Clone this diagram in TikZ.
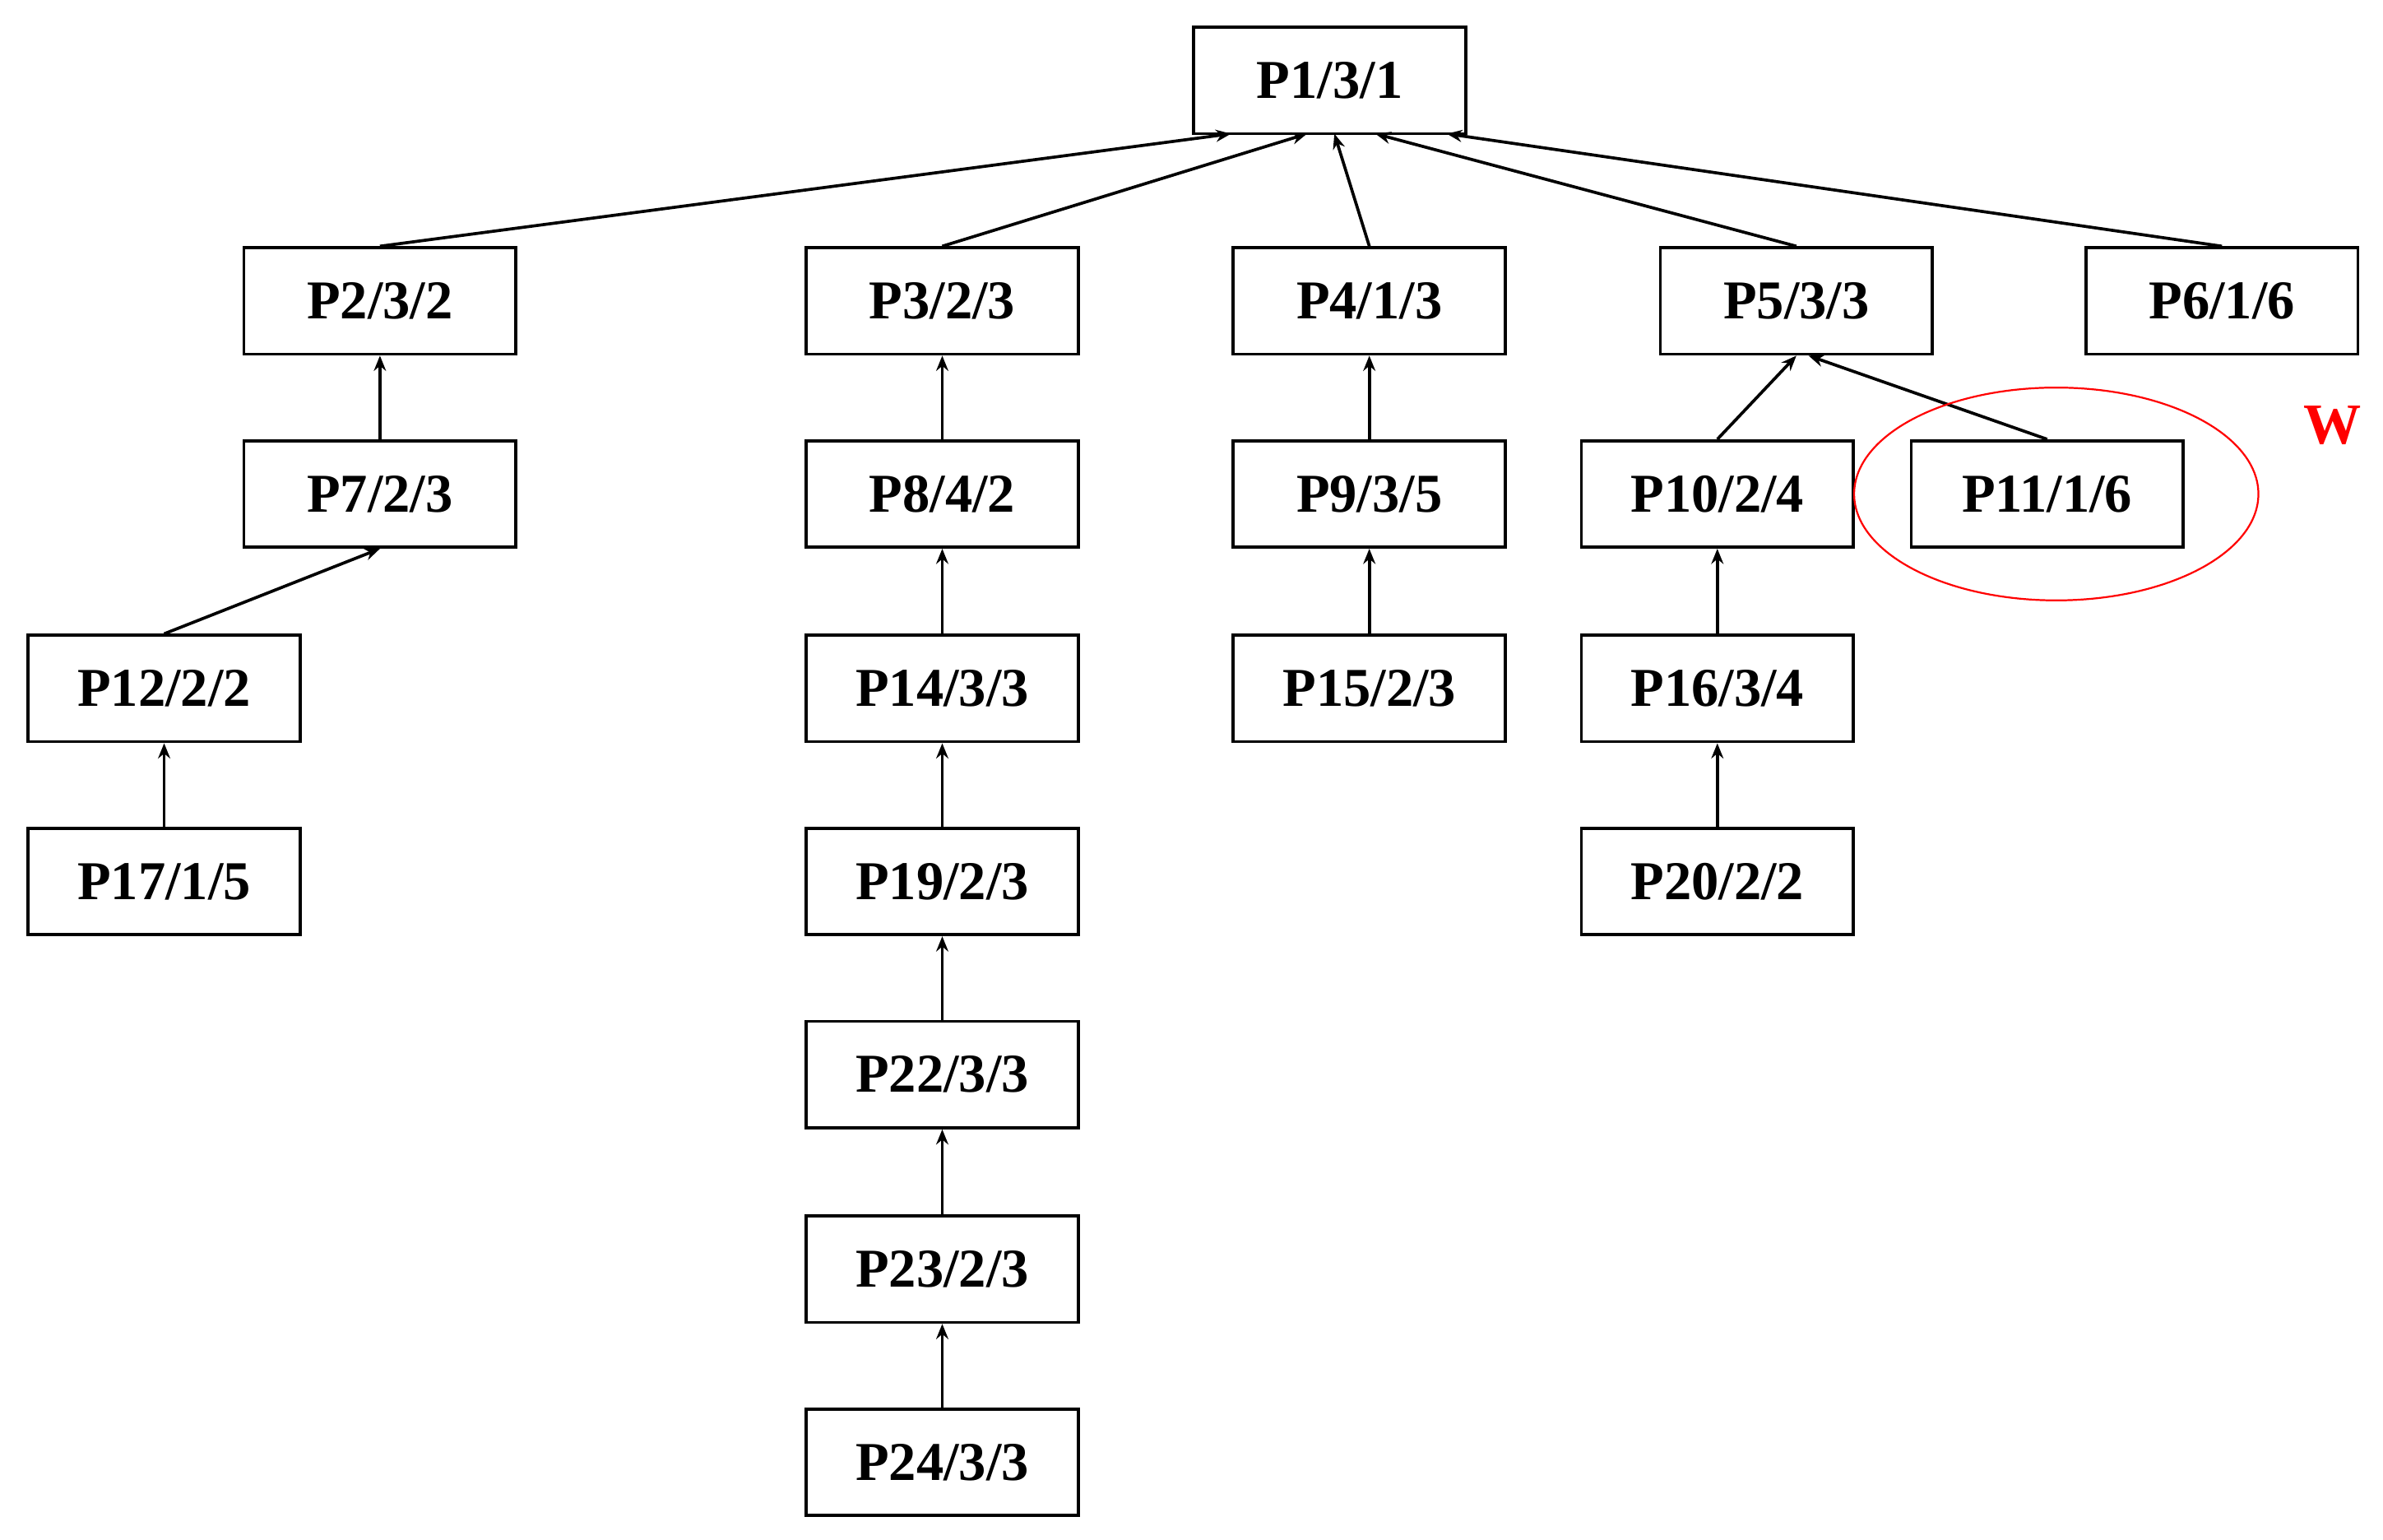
\documentclass[tikz,border=0pt]{standalone}
\usepackage{fontspec}
\setmainfont{Liberation Serif}
\usetikzlibrary{arrows.meta}
\begin{document}
\begin{tikzpicture}[x=0.5pt,y=0.5pt,yscale=-1,
  box/.style={draw,line width=1pt,minimum width=89.5pt,minimum height=35pt,inner sep=0pt,font=\fontsize{18}{20}\selectfont\bfseries},
  link/.style={line width=1pt,-{Stealth[length=5pt,width=4pt]}}]
\useasboundingbox (0,0) rectangle (1568,1013);

% Nodes
\node[box] (p1) at (875,53) {P1/3/1};
\node[box] (p2) at (250,198) {P2/3/2};
\node[box] (p3) at (620,198) {P3/2/3};
\node[box] (p4) at (901,198) {P4/1/3};
\node[box] (p5) at (1182,198) {P5/3/3};
\node[box] (p6) at (1462,198) {P6/1/6};
\node[box] (p7) at (250,325) {P7/2/3};
\node[box] (p8) at (620,325) {P8/4/2};
\node[box] (p9) at (901,325) {P9/3/5};
\node[box] (p10) at (1130,325) {P10/2/4};
\node[box] (p11) at (1347,325) {P11/1/6};
\node[box] (p12) at (108,453) {P12/2/2};
\node[box] (p14) at (620,453) {P14/3/3};
\node[box] (p15) at (901,453) {P15/2/3};
\node[box] (p16) at (1130,453) {P16/3/4};
\node[box] (p17) at (108,580) {P17/1/5};
\node[box] (p19) at (620,580) {P19/2/3};
\node[box] (p20) at (1130,580) {P20/2/2};
\node[box] (p22) at (620,707) {P22/3/3};
\node[box] (p23) at (620,835) {P23/2/3};
\node[box] (p24) at (620,962) {P24/3/3};

% Arrow ends
\coordinate (e2) at (810,88);
\coordinate (e3) at (860,88);
\coordinate (e4) at (878,88);
\coordinate (e5) at (905,88);
\coordinate (e6) at (952,88);
\coordinate (e11) at (1190,234);

% Links
\draw[link] (p2.north) -- (e2);
\draw[link] (p3.north) -- (e3);
\draw[link] (p4.north) -- (e4);
\draw[link] (p5.north) -- (e5);
\draw[link] (p6.north) -- (e6);
\draw[link] (p7) -- (p2);
\draw[link] (p12.north) -- (p7.south);
\draw[link] (p17) -- (p12);
\draw[link] (p8) -- (p3);
\draw[link] (p14) -- (p8);
\draw[link] (p19) -- (p14);
\draw[link] (p22) -- (p19);
\draw[link] (p23) -- (p22);
\draw[link] (p24) -- (p23);
\draw[link] (p9) -- (p4);
\draw[link] (p15) -- (p9);
\draw[link] (p10.north) -- (p5.south);
\draw[link] (p11.north) -- (e11);
\draw[link] (p16) -- (p10);
\draw[link] (p20) -- (p16);

% Highlight
\draw[red,line width=0.6pt] (1353,325) ellipse [x radius=133,y radius=70];
\node[text=red,font=\fontsize{19}{20}\selectfont\bfseries] (w) at (1535,280) {W};
\end{tikzpicture}
\end{document}
